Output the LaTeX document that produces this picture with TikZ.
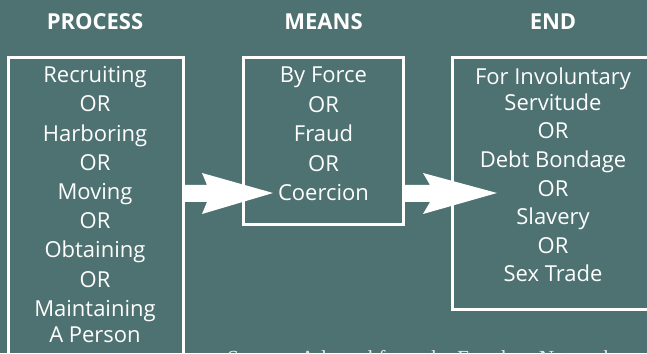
\documentclass[tikz,border=0pt]{standalone}
\usepackage{fontspec}
\usetikzlibrary{calc}
\setmainfont{Open Sans}
\newfontfamily\srcfont{Liberation Serif}
\definecolor{bgteal}{RGB}{78,114,113}
\tikzset{
  x=1pt,y=1pt,
  box/.style={draw=white,line width=3pt,inner sep=0pt,outer sep=0pt},
  head/.style={text=white,font=\fontsize{22}{25}\selectfont\bfseries,anchor=base,inner sep=0pt},
  body/.style={text=white,align=center,anchor=base,inner sep=0pt},
  blockarrow/.style={fill=white},
}
\begin{document}
\begin{tikzpicture}
\useasboundingbox (0,0) rectangle (647,353);
\clip (0,0) rectangle (647,353);
\fill[bgteal] (0,0) rectangle (647,353);
% headers
\node[head] (hproc) at (95,323.7) {PROCESS};
\node[head] (hmeans) at (323.5,323.7) {MEANS};
\node[head] (hend) at (553,323.7) {END};
% boxes
\node[box,minimum width=175pt,minimum height=322pt] (process) at (96,134) {};
\node[box,minimum width=160.7pt,minimum height=166.5pt] (means) at (323.35,211.75) {};
\node[box,minimum width=228pt,minimum height=252pt] (endbox) at (566,169) {};
% texts (anchored at the baseline of the last line)
\node[body,font=\fontsize{22}{29.2}\selectfont] (ptext) at (95,10)
  {Recruiting\\OR\\Harboring\\OR\\Moving\\OR\\Obtaining\\OR\\Maintaining\\[-2.5pt]A Person};
\node[body,font=\fontsize{22}{29.5}\selectfont] (mtext) at (323.5,152)
  {By Force\\OR\\Fraud\\OR\\Coercion};
\node[body,font=\fontsize{22}{28.6}\selectfont] (etext) at (553,71)
  {For Involuntary\\[-2.6pt]Servitude\\OR\\Debt Bondage\\OR\\Slavery\\OR\\Sex Trade};
% block arrows
\coordinate (a1) at (process.east |- 0,159.5);
\coordinate (a2) at (means.east |- 0,159.5);
\fill[blockarrow] ($(a1)+(-1.5,8.5)$) -- ++(25,0) -- ++(-5,12) -- (273,160) -- ($(a1)+(18.5,-20.5)$) -- ++(5,12) -- ($(a1)+(-1.5,-8.5)$) -- cycle;
\fill[blockarrow] ($(a2)+(-1.7,8.5)$) -- ++(28,0) -- ++(-7,12) -- (497,160) -- ($(a2)+(19.3,-20.5)$) -- ++(7,12) -- ($(a2)+(-1.7,-8.5)$) -- cycle;
% source line (clipped at the bottom edge, as in the reference)
\node[text=white!85!bgteal,font=\srcfont\fontsize{21.5}{25}\selectfont,anchor=base west,inner sep=0pt] (src) at (227,-12) {Source: Adapted from the Freedom Network};
\end{tikzpicture}
\end{document}
